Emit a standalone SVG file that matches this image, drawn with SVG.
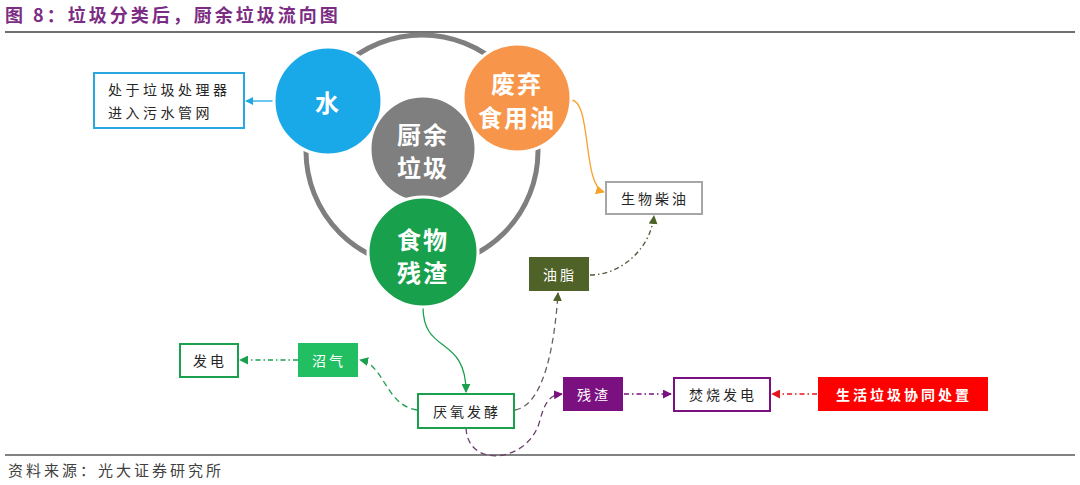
<svg xmlns="http://www.w3.org/2000/svg" width="1080" height="485" viewBox="0 0 1080 485">
<defs>
<style>
.t{font-family:"Noto Sans CJK SC","Liberation Sans",sans-serif;}
.box{font-size:14px;letter-spacing:3px;fill:#262626;text-anchor:middle;dominant-baseline:central;}
.wbox{font-size:14px;letter-spacing:3px;fill:#fff;text-anchor:middle;dominant-baseline:central;}
.ct{font-size:24px;font-weight:bold;fill:#fff;text-anchor:middle;dominant-baseline:central;letter-spacing:2px;}
.c{fill:none;stroke-width:1.3;}
</style>
<marker id="aBlue" viewBox="0 0 10 10" refX="9" refY="5" markerWidth="8" markerHeight="8" orient="auto" markerUnits="userSpaceOnUse"><path d="M0,0L10,5L0,10z" fill="#1EA7E1"/></marker>
<marker id="aOrange" viewBox="0 0 10 10" refX="9" refY="5" markerWidth="9" markerHeight="9" orient="auto" markerUnits="userSpaceOnUse"><path d="M0,0L10,5L0,10z" fill="#F5A32C"/></marker>
<marker id="aOlive" viewBox="0 0 10 10" refX="9" refY="5" markerWidth="9" markerHeight="9" orient="auto" markerUnits="userSpaceOnUse"><path d="M0,0L10,5L0,10z" fill="#4F6228"/></marker>
<marker id="aGreen" viewBox="0 0 10 10" refX="9" refY="5" markerWidth="9" markerHeight="9" orient="auto" markerUnits="userSpaceOnUse"><path d="M0,0L10,5L0,10z" fill="#1BA04E"/></marker>
<marker id="aPurple" viewBox="0 0 10 10" refX="9" refY="5" markerWidth="9" markerHeight="9" orient="auto" markerUnits="userSpaceOnUse"><path d="M0,0L10,5L0,10z" fill="#7B1080"/></marker>
<marker id="aRed" viewBox="0 0 10 10" refX="9" refY="5" markerWidth="9" markerHeight="9" orient="auto" markerUnits="userSpaceOnUse"><path d="M0,0L10,5L0,10z" fill="#E8141B"/></marker>
</defs>
<rect width="1080" height="485" fill="#fff"/>
<text class="t" x="5" y="22" font-size="18" font-weight="bold" fill="#7B2C83" letter-spacing="3">图 8：垃圾分类后，厨余垃圾流向图</text>
<line x1="5" y1="32" x2="1075" y2="32" stroke="#404040" stroke-width="1.5"/>
<line x1="5" y1="455" x2="1075" y2="455" stroke="#595959" stroke-width="1.5"/>
<text class="t" x="8" y="476" font-size="15" fill="#404040" letter-spacing="3">资料来源：光大证券研究所</text>

<circle cx="422" cy="151" r="116" fill="none" stroke="#7F7F7F" stroke-width="5"/>

<g id="connectors">
<path class="c" d="M275,101 L246,101" stroke="#1EA7E1" marker-end="url(#aBlue)"/>
<path class="c" d="M571,100 C592,100 582,186 604,192" stroke="#F5A32C" marker-end="url(#aOrange)"/>
<path class="c" d="M590,275 C620,275 650,250 654,216" stroke="#4F5A3A" stroke-dasharray="5,3,1.5,3" marker-end="url(#aOlive)"/>
<path class="c" d="M515,410 C545,405 555,340 558,293" stroke="#6F6060" stroke-dasharray="6,4" marker-end="url(#aOlive)"/>
<path class="c" d="M423,307 C423,355 466,335 466,392" stroke="#1BA04E" marker-end="url(#aGreen)"/>
<path class="c" d="M417,410 C385,405 385,365 360,360" stroke="#1BA04E" stroke-dasharray="6,4" marker-end="url(#aGreen)"/>
<path class="c" d="M298,360 L240,360" stroke="#1BA04E" stroke-dasharray="5,3,1.5,3" marker-end="url(#aGreen)"/>
<path class="c" d="M466,428 C468,470 530,462 540,420 C546,398 552,395 562,394" stroke="#6B3F6B" stroke-dasharray="6,4" marker-end="url(#aPurple)"/>
<path class="c" d="M624,394 L671,394" stroke="#7B1080" stroke-dasharray="5,3,1.5,3" marker-end="url(#aPurple)"/>
<path class="c" d="M817,394 L772,394" stroke="#E8141B" stroke-dasharray="5,3,1.5,3" marker-end="url(#aRed)"/>
</g>

<g id="water"><circle cx="328" cy="101" r="54" fill="#1AA9E8" stroke="#fff" stroke-width="3"/><text class="t ct" x="328" y="101">水</text></g>
<g id="oil"><circle cx="517" cy="98" r="54" fill="#F7964A" stroke="#fff" stroke-width="3"/><text class="t ct" x="517" y="82">废弃</text><text class="t ct" x="517" y="116">食用油</text></g>
<g id="kitchen"><circle cx="423" cy="149" r="53" fill="#7F7F7F" stroke="#fff" stroke-width="3"/><text class="t ct" x="423" y="133">厨余</text><text class="t ct" x="423" y="166">垃圾</text></g>
<g id="food"><circle cx="423" cy="252" r="55" fill="#18A04C" stroke="#fff" stroke-width="3"/><text class="t ct" x="423" y="238">食物</text><text class="t ct" x="423" y="271">残渣</text></g>

<g id="sewer"><rect x="94" y="73" width="150" height="55" fill="#fff" stroke="#29A8DF" stroke-width="2"/><text class="t" x="108" y="95" font-size="14" letter-spacing="3.5" fill="#262626">处于垃圾处理器</text><text class="t" x="108" y="118" font-size="14" letter-spacing="3.5" fill="#262626">进入污水管网</text></g>
<g id="biodiesel"><rect x="606" y="182" width="96" height="32" fill="#fff" stroke="#A6A6A6" stroke-width="2"/><text class="t box" x="655" y="198">生物柴油</text></g>
<g id="grease"><rect x="529" y="257" width="60" height="34" fill="#4F6228"/><text class="t wbox" x="560" y="274">油脂</text></g>
<g id="anaerobic"><rect x="418" y="394" width="96" height="34" fill="#fff" stroke="#1BA04E" stroke-width="2"/><text class="t box" x="467" y="411">厌氧发酵</text></g>
<g id="biogas"><rect x="298" y="343" width="60" height="34" fill="#22BF62"/><text class="t wbox" x="329" y="360">沼气</text></g>
<g id="power1"><rect x="180" y="344" width="58" height="33" fill="#fff" stroke="#1BA04E" stroke-width="2"/><text class="t box" x="210" y="360">发电</text></g>
<g id="residue"><rect x="563" y="377" width="60" height="34" fill="#7B1080"/><text class="t wbox" x="594" y="394">残渣</text></g>
<g id="incineration"><rect x="674" y="378" width="96" height="33" fill="#fff" stroke="#7B1080" stroke-width="2"/><text class="t box" x="723" y="394">焚烧发电</text></g>
<g id="codisposal"><rect x="818" y="377" width="170" height="34" fill="#FF0000"/><text class="t wbox" x="904" y="394" font-weight="bold">生活垃圾协同处置</text></g>
</svg>
